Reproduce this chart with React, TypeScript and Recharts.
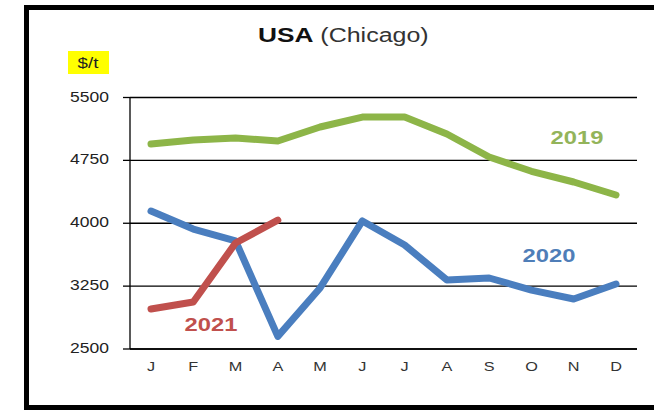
import React from "react";
import { LineChart, Line, XAxis, YAxis, CartesianGrid } from "recharts";

const months = ["J", "F", "M", "A", "M", "J", "J", "A", "S", "O", "N", "D"];
const y2019 = [4945, 4993, 5017, 4981, 5148, 5267, 5267, 5065, 4790, 4620, 4492, 4337];
const y2020 = [4146, 3931, 3790, 2650, 3228, 4027, 3740, 3323, 3347, 3203, 3096, 3275];
const y2021: (number | null)[] = [2977, 3060, 3764, 4038, null, null, null, null, null, null, null, null];
const yTicks = [2500, 3250, 4000, 4750, 5500];

const data = months.map((m, i) => ({
  key: i,
  m,
  y2019: y2019[i],
  y2020: y2020[i],
  y2021: y2021[i],
}));

const FONT = "'Liberation Sans', Arial, sans-serif";
const SX = 1.25;

const YTick = (props: any) => {
  const { x, y, payload } = props;
  return (
    <g transform={`translate(${x},${y + 4}) scale(${SX},1)`}>
      <text x={0} y={0} textAnchor="end" fontSize={14} fill="#222" fontFamily={FONT}>
        {payload.value}
      </text>
    </g>
  );
};

const XTick = (props: any) => {
  const { x, y, payload } = props;
  return (
    <g transform={`translate(${x},${y + 14}) scale(${SX},1)`}>
      <text x={0} y={0} textAnchor="middle" fontSize={13} fill="#333" fontFamily={FONT}>
        {months[payload.value]}
      </text>
    </g>
  );
};

const Label = ({ x, y, text, color, size, weight }: any) => (
  <g transform={`translate(${x},${y}) scale(${SX},1)`}>
    <text x={0} y={0} textAnchor="middle" fontSize={size} fontWeight={weight} fill={color} fontFamily={FONT}>
      {text}
    </text>
  </g>
);

export default function App() {
  return (
    <div style={{ position: "absolute", left: 0, top: 0, width: 654, height: 413, overflow: "hidden", background: "#fff" }}>
      <div
        style={{
          position: "absolute",
          left: 24,
          top: 5,
          width: 660,
          height: 405,
          border: "5px solid #000",
          boxSizing: "border-box",
        }}
      />
      <div style={{ position: "absolute", left: 0, top: 0 }}>
        <LineChart
          width={654}
          height={413}
          data={data}
          margin={{ top: 97.5, right: 17, bottom: 34, left: 50 }}
        >
          <CartesianGrid vertical={false} stroke="#000" strokeWidth={1.3} strokeDasharray="" />
          <XAxis
            dataKey="key"
            type="category"
            tick={<XTick />}
            tickLine={false}
            axisLine={{ stroke: "#000", strokeWidth: 1.3 }}
            height={30}
            tickSize={6}
            tickMargin={2}
            interval={0}
            padding={{ left: 21, right: 21 }}
          />
          <YAxis
            domain={[2500, 5500]}
            ticks={yTicks}
            width={80}
            tick={<YTick />}
            tickSize={7}
            tickMargin={14}
            tickLine={{ stroke: "#000", strokeWidth: 1.3 }}
            axisLine={{ stroke: "#000", strokeWidth: 1.3 }}
            interval={0}
          />
          <Line dataKey="y2019" stroke="#8DB548" strokeWidth={7} dot={false} isAnimationActive={false} strokeLinejoin="round" strokeLinecap="round" />
          <Line dataKey="y2020" stroke="#4A7EBF" strokeWidth={7} dot={false} isAnimationActive={false} strokeLinejoin="round" strokeLinecap="round" />
          <Line dataKey="y2021" stroke="#C0504D" strokeWidth={7} dot={false} isAnimationActive={false} strokeLinejoin="round" strokeLinecap="round" connectNulls={false} />
        </LineChart>
      </div>
      <svg width={654} height={413} style={{ position: "absolute", left: 0, top: 0, pointerEvents: "none" }}>
        <g transform={`translate(258,42) scale(${SX},1)`}>
          <text x={0} y={0} fontFamily={FONT} fill="#111">
            <tspan fontSize={21} fontWeight="bold">USA</tspan>
            <tspan fontSize={20} fill="#333"> (Chicago)</tspan>
          </text>
        </g>
        <rect x={68} y={51} width={41} height={23} fill="#FFFF00" />
        <Label x={88} y={68} text="$/t" color="#222" size={15} weight="normal" />
        <Label x={577} y={144} text="2019" color="#93B45A" size={19} weight="bold" />
        <Label x={549} y={262} text="2020" color="#4F7EB8" size={19} weight="bold" />
        <Label x={211} y={331} text="2021" color="#C0504D" size={19} weight="bold" />
      </svg>
    </div>
  );
}
